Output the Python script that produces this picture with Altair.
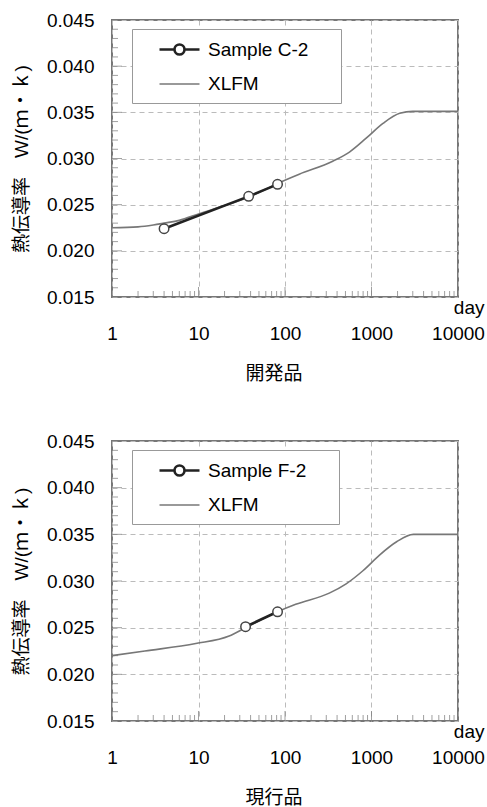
import altair as alt
import pandas as pd

FONT = "Liberation Sans, Arial, Noto Sans CJK JP, sans-serif"

# ---- data ----
x_ticks = [1, 10, 100, 1000, 10000]
x_minor = [2, 3, 4, 5, 6, 7, 8, 9, 20, 30, 40, 50, 60, 70, 80, 90,
           200, 300, 400, 500, 600, 700, 800, 900,
           2000, 3000, 4000, 5000, 6000, 7000, 8000, 9000]
y_ticks = [0.015, 0.020, 0.025, 0.030, 0.035, 0.040, 0.045]
y_minor = [0.016, 0.017, 0.018, 0.019, 0.021, 0.022, 0.023, 0.024,
           0.026, 0.027, 0.028, 0.029, 0.031, 0.032, 0.033, 0.034,
           0.036, 0.037, 0.038, 0.039, 0.041, 0.042, 0.043, 0.044]

y_title = "熱伝導率　W/(ｍ・ｋ)"

top_title = "開発品"
top_sample_name = "Sample C-2"
top_sample_day = [4, 38, 82]
top_sample_k = [0.0224, 0.0259, 0.0272]
top_xlfm_day = [1, 2, 3, 4, 6, 10, 20, 38, 82, 146, 356, 556, 868, 1357, 2120, 3000, 10000]
top_xlfm_k = [0.0225, 0.0226, 0.0228, 0.0230, 0.0233, 0.0240, 0.0249, 0.0258, 0.0273,
              0.0283, 0.0297, 0.0307, 0.0322, 0.0338, 0.0349, 0.0351, 0.0351]

bot_title = "現行品"
bot_sample_name = "Sample F-2"
bot_sample_day = [35, 82]
bot_sample_k = [0.0251, 0.0267]
bot_xlfm_day = [1, 2.4, 9.3, 22.6, 35, 82, 133, 325, 509, 796, 1246, 1950, 3050, 10000]
bot_xlfm_k = [0.0220, 0.0225, 0.0233, 0.0241, 0.0250, 0.0267, 0.0275, 0.0287,
              0.0297, 0.0311, 0.0328, 0.0342, 0.0350, 0.0350]

W = 346

# legend symbols: line with an open circle, and a plain line
SAMPLE_SYMBOL = "M-2,0H-0.5M0.5,0H2M-0.5,0A0.5,0.5 0 1,0 0.5,0A0.5,0.5 0 1,0 -0.5,0"
LINE_SYMBOL = "M-2,0H2"


def panel(sname, sday, sk, xday, xk, title, h):
    xlfm_df = pd.DataFrame({"day": xday, "k": xk, "series": "XLFM"})
    samp_df = pd.DataFrame({"day": sday, "k": sk, "series": sname})
    legend_df = pd.DataFrame({"day": [], "k": [], "series": []})
    ymin_df = pd.DataFrame({"k": y_minor})
    ymaj_df = pd.DataFrame({"k": y_ticks})
    xmin_df = pd.DataFrame({"day": x_minor})
    xmaj_df = pd.DataFrame({"day": x_ticks})

    xenc = alt.X("day:Q",
                 scale=alt.Scale(type="log", domain=[1, 10000]),
                 axis=alt.Axis(values=x_ticks, format="d", title="day",
                               titleX=W + 26, titleY=16, titleAlign="right",
                               titleBaseline="alphabetic", labelPadding=27,
                               labelFlush=False))
    yenc = alt.Y("k:Q",
                 scale=alt.Scale(domain=[0.015, 0.045]),
                 axis=alt.Axis(values=y_ticks, format=".3f", title=y_title,
                               labelPadding=18, titlePadding=15))

    dom = [sname, "XLFM"]
    leg = alt.Legend(orient="none", legendX=20, legendY=9, title=" ",
                     titleOrient="right", titlePadding=24, titleFontSize=19,
                     symbolSize=400, padding=9, symbolOpacity=1,
                     rowPadding=13, symbolOffset=27, labelOffset=17,
                     strokeColor="#999", fillColor="white",
                     labelFont=FONT, labelFontSize=19, labelColor="black")
    color = alt.Color("series:N", scale=alt.Scale(domain=dom, range=["#222222", "#777777"]), legend=leg)
    sw = alt.StrokeWidth("series:N", scale=alt.Scale(domain=dom, range=[2.6, 1.6]), legend=leg)
    shape = alt.Shape("series:N", scale=alt.Scale(domain=dom, range=[SAMPLE_SYMBOL, LINE_SYMBOL]),
                      legend=leg)

    xlfm_line = alt.Chart(xlfm_df).mark_line(interpolate="monotone").encode(
        x=xenc, y=yenc, color=color, strokeWidth=sw)
    samp_line = alt.Chart(samp_df).mark_line().encode(
        x=xenc, y=yenc, color=color, strokeWidth=sw)
    pts = alt.Chart(samp_df).mark_point(filled=False, fill="white", stroke="#444444",
                                        strokeWidth=1.5, size=90, opacity=1,
                                        shape="circle").encode(x=xenc, y=yenc)
    # legend-only layer (no rows): supplies the symbol shapes of the legend
    leg_layer = alt.Chart(legend_df).mark_point(filled=False, opacity=1).encode(
        x=xenc, y=yenc, shape=shape, color=color, strokeWidth=sw)
    ymin = alt.Chart(ymin_df).mark_tick(size=6, thickness=1, color="#777777").encode(
        y=yenc, x=alt.value(3))
    ymaj = alt.Chart(ymaj_df).mark_tick(size=10, thickness=1, color="#777777").encode(
        y=yenc, x=alt.value(5))
    xmin = alt.Chart(xmin_df).mark_tick(size=6, thickness=1, color="#777777").encode(
        x=xenc, y=alt.value(h - 3))
    xmaj = alt.Chart(xmaj_df).mark_tick(size=10, thickness=1, color="#777777").encode(
        x=xenc, y=alt.value(h - 5))

    return alt.layer(xlfm_line, samp_line, pts, leg_layer, ymin, ymaj, xmin, xmaj).properties(
        width=W, height=h,
        title=alt.TitleParams(title, orient="bottom", fontSize=19, fontWeight="normal",
                              font=FONT, color="black", offset=22, frame="group", dx=-11))


top = panel(top_sample_name, top_sample_day, top_sample_k, top_xlfm_day, top_xlfm_k, top_title, 277)
bot = panel(bot_sample_name, bot_sample_day, bot_sample_k, bot_xlfm_day, bot_xlfm_k, bot_title, 280)

chart = alt.vconcat(top, bot, spacing=46).resolve_scale(
    color="independent", strokeWidth="independent", shape="independent"
).resolve_legend(
    color="independent", strokeWidth="independent", shape="independent"
).properties(
    padding={"left": 11, "top": 10, "right": 0, "bottom": 0}
).configure_view(
    stroke="#777777", strokeWidth=2
).configure_axis(
    labelFont=FONT, labelFontSize=19, labelColor="black",
    titleFont=FONT, titleFontSize=19, titleFontWeight="normal", titleColor="black",
    ticks=False, tickSize=0, domain=False,
    grid=True, gridColor="#bbbbbb", gridDash=[5, 4], gridWidth=1
)

chart.save("out.html", embed_options={"renderer": "svg", "actions": False})
